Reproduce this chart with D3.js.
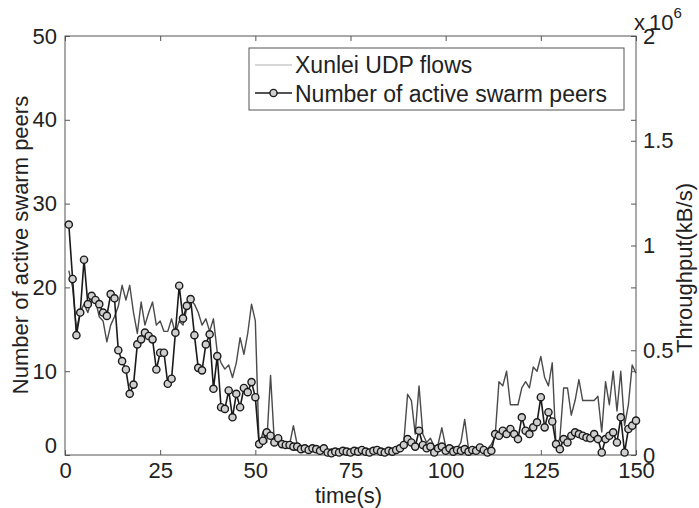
<!DOCTYPE html>
<html><head><meta charset="utf-8">
<script src="https://cdn.jsdelivr.net/npm/d3@7"></script>
<style>body{margin:0;background:#fff;}svg{display:block;font-family:"Liberation Sans",Arial,sans-serif;}</style>
</head><body><svg id="c" width="699" height="508"></svg>
<script>
// time in seconds
const times = d3.range(1, 151);
// Number of active swarm peers (left axis)
const peers = [27.5,21,14.3,17,23.3,18,19,18.5,18,17,16.6,19.2,18.7,12.5,11.2,10.2,7.3,8.4,13.2,13.8,
14.6,14.2,13.8,10.2,12.2,12.2,8.5,9.1,14.6,20.2,16.3,17.8,18.6,14.3,10.4,10.1,13.2,14.4,7.9,11.8,
5.7,5.5,7.7,4.5,7.3,5.7,8,7.5,8.7,6.9,1.3,1.7,2.7,2.3,1.5,2.0,1.3,1.2,1.2,1.0,
1.0,0.7,0.8,0.6,0.8,0.7,0.5,0.8,0.3,0.2,0.4,0.3,0.5,0.4,0.3,0.5,0.4,0.6,0.4,0.3,
0.5,0.6,0.4,0.3,0.5,0.4,0.6,0.8,1.2,1.9,1.5,1.0,2.9,1.2,0.8,1.0,0.3,0.8,1.0,0.5,
0.8,0.4,0.6,0.5,0.7,0.4,0.6,0.5,0.9,0.6,0.3,0.5,2.5,2.3,2.9,2.5,3.1,2.5,1.9,4.5,
2.9,2.5,3.3,3.9,6.9,3.3,5.1,4.0,1.3,0.7,1.9,1.5,2.3,2.7,2.5,2.3,2.1,2.0,2.5,1.9,
0.3,1.9,2.3,2.7,1.5,4.5,0.3,3.1,3.5,4.1];
// Xunlei UDP flows throughput (x10^6 kB/s, right axis)
const throughput = [0.88,0.80,0.60,0.68,0.72,0.68,0.74,0.74,0.66,0.64,0.54,0.62,0.66,0.71,0.81,0.74,0.81,0.68,0.58,0.73,
0.62,0.68,0.73,0.62,0.64,0.59,0.59,0.65,0.58,0.64,0.62,0.70,0.74,0.72,0.68,0.62,0.65,0.59,0.65,0.49,
0.44,0.41,0.43,0.37,0.44,0.56,0.48,0.58,0.72,0.64,0.04,0.11,0.06,0.38,0.06,0.06,0.05,0.05,0.05,0.14,
0.05,0.04,0.03,0.04,0.03,0.02,0.03,0.02,0.02,0.03,0.02,0.03,0.02,0.03,0.02,0.02,0.03,0.02,0.03,0.02,
0.03,0.02,0.03,0.02,0.03,0.02,0.03,0.03,0.06,0.29,0.26,0.10,0.33,0.10,0.06,0.08,0.04,0.05,0.13,0.04,
0.03,0.04,0.03,0.06,0.17,0.03,0.03,0.03,0.03,0.03,0.03,0.05,0.09,0.35,0.33,0.40,0.24,0.24,0.24,0.32,
0.35,0.32,0.42,0.40,0.47,0.37,0.33,0.44,0.04,0.08,0.32,0.32,0.19,0.26,0.36,0.26,0.26,0.26,0.26,0.28,
0.11,0.35,0.24,0.40,0.21,0.40,0.14,0.24,0.43,0.39];
const xTicks = [0,25,50,75,100,125,150];
const yLeftTicks = [0,10,20,30,40,50];
const yRightTicks = [0,0.5,1,1.5,2];
const legendLabels = ["Xunlei UDP flows","Number of active swarm peers"];

const svg = d3.select("#c");
const L=65, R=636, T=36, B=455;
const x = d3.scaleLinear().domain([0,150]).range([L,R]);
const yL = d3.scaleLinear().domain([0,50]).range([B,T]);
const yR = d3.scaleLinear().domain([0,2]).range([B,T]);
const fs = 22;

// frame
svg.append("rect").attr("x",L).attr("y",T).attr("width",R-L).attr("height",B-T)
  .attr("fill","none").attr("stroke","#555").attr("stroke-width",1);

// axes (ticks inward)
const bx = svg.append("g").attr("transform",`translate(0,${B})`)
  .call(d3.axisBottom(x).tickValues(xTicks).tickSizeInner(-5).tickSizeOuter(0).tickPadding(7));
const tx = svg.append("g").attr("transform",`translate(0,${T})`)
  .call(d3.axisTop(x).tickValues(xTicks).tickSizeInner(-5).tickSizeOuter(0).tickFormat(""));
const ly = svg.append("g").attr("transform",`translate(${L},0)`)
  .call(d3.axisLeft(yL).tickValues(yLeftTicks).tickSizeInner(-5).tickSizeOuter(0).tickPadding(8));
const ry2 = svg.append("g").attr("transform",`translate(${R},0)`)
  .call(d3.axisRight(yL).tickValues(yLeftTicks).tickSizeInner(-5).tickSizeOuter(0).tickFormat(""));
const ry = svg.append("g").attr("transform",`translate(${R},0)`)
  .call(d3.axisRight(yR).tickValues(yRightTicks).tickSizeInner(-5).tickSizeOuter(0).tickPadding(7)
    .tickFormat(d=>d3.format("")(d)));
[bx,tx,ly,ry2,ry].forEach(g=>{
  g.select(".domain").remove();
  g.selectAll("line").attr("stroke","#555");
  g.selectAll("text").attr("font-size",fs).attr("fill","#222").attr("font-family","Liberation Sans, Arial, sans-serif");
});
ly.selectAll("text").filter(d=>d===0).attr("dy","-0.1em");

// x10^6 label
const ex = svg.append("text").attr("x",634).attr("y",30).attr("font-size",fs).attr("fill","#222");
ex.append("tspan").text("x");
ex.append("tspan").attr("dx",4).text("10");
ex.append("tspan").attr("dy",-12).attr("font-size",15).text("6");

// axis titles
svg.append("text").attr("x",(L+R)/2-2).attr("y",503).attr("text-anchor","middle")
  .attr("font-size",fs).attr("fill","#222").text("time(s)");
svg.append("text").attr("transform","translate(28,245) rotate(-90)").attr("text-anchor","middle")
  .attr("font-size",fs).attr("fill","#222").text("Number of active swarm peers");
svg.append("text").attr("transform","translate(692,268) rotate(-90)").attr("text-anchor","middle")
  .attr("font-size",fs).attr("fill","#222").text("Throughput(kB/s)");

// throughput line
svg.append("path").datum(times.map((t,i)=>[t,throughput[i]]))
  .attr("fill","none").attr("stroke","#4a4a4a").attr("stroke-width",1.4).attr("stroke-linejoin","round")
  .attr("d",d3.line().x(d=>x(d[0])).y(d=>yR(d[1])));

// peers line + markers
svg.append("path").datum(times.map((t,i)=>[t,peers[i]]))
  .attr("fill","none").attr("stroke","#1a1a1a").attr("stroke-width",1.6).attr("stroke-linejoin","round")
  .attr("d",d3.line().x(d=>x(d[0])).y(d=>yL(d[1])));
svg.append("g").selectAll("circle").data(times.map((t,i)=>[t,peers[i]])).join("circle")
  .attr("cx",d=>x(d[0])).attr("cy",d=>yL(d[1])).attr("r",3.6)
  .attr("fill","#cfcfcf").attr("stroke","#1a1a1a").attr("stroke-width",1.4);

// legend
const lg = svg.append("g");
lg.append("rect").attr("x",249).attr("y",48).attr("width",375).attr("height",62)
  .attr("fill","#fff").attr("stroke","#555").attr("stroke-width",1);
lg.append("line").attr("x1",255).attr("x2",292).attr("y1",65).attr("y2",65).attr("stroke","#b0b0b0").attr("stroke-width",1.2);
lg.append("line").attr("x1",255).attr("x2",292).attr("y1",93).attr("y2",93).attr("stroke","#1a1a1a").attr("stroke-width",1.6);
lg.append("circle").attr("cx",273.5).attr("cy",93).attr("r",3.6).attr("fill","#cfcfcf").attr("stroke","#1a1a1a").attr("stroke-width",1.4);
lg.selectAll("text.l").data(legendLabels).join("text").attr("class","l")
  .attr("x",295).attr("y",(d,i)=>73+i*29).attr("font-size",23).attr("fill","#222").text(d=>d);
</script></body></html>
